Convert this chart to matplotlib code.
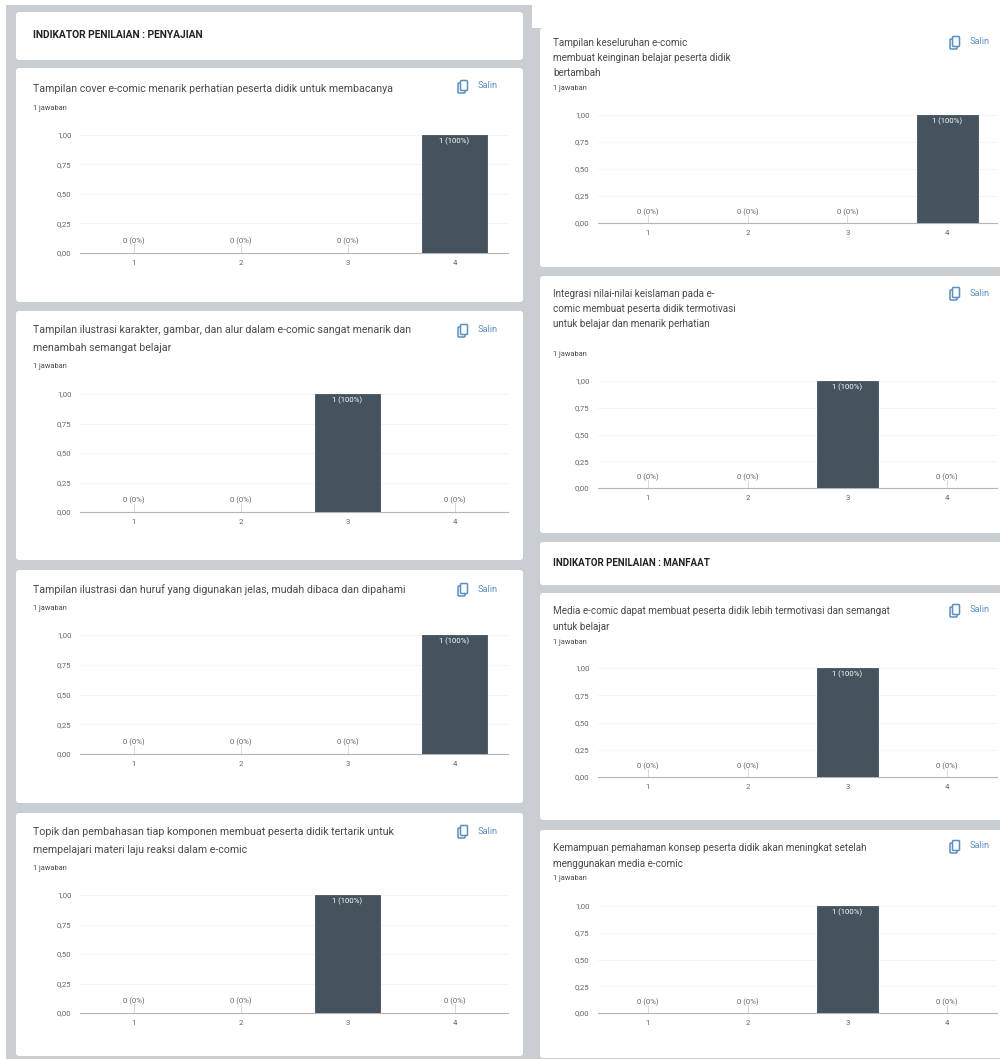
import matplotlib
matplotlib.use('Agg')
import matplotlib.pyplot as plt
from matplotlib.patches import FancyBboxPatch, Rectangle

plt.rcParams['font.family'] = ['Roboto', 'DejaVu Sans']

W, H = 1000, 1059
GREY = '#c8ced2'
BAR = '#44535e'
TXT = '#4a4a4a'
BLUE = '#5b8fc0'

categories = ['1', '2', '3', '4']
y_ticks = [0, 0.25, 0.5, 0.75, 1]
y_tick_labels = ['0,00', '0,25', '0,50', '0,75', '1,00']

# answers per question
q1 = [0, 0, 0, 1]
q2 = [0, 0, 1, 0]
q3 = [0, 0, 0, 1]
q4 = [0, 0, 1, 0]
q5 = [0, 0, 0, 1]
q6 = [0, 0, 1, 0]
q7 = [0, 0, 1, 0]
q8 = [0, 0, 1, 0]

title1 = ['Tampilan cover e-comic menarik perhatian peserta didik untuk membacanya']
title2 = ['Tampilan ilustrasi karakter, gambar, dan alur dalam e-comic sangat menarik dan',
          'menambah semangat belajar']
title3 = ['Tampilan ilustrasi dan huruf yang digunakan jelas, mudah dibaca dan dipahami']
title4 = ['Topik dan pembahasan tiap komponen membuat peserta didik tertarik untuk',
          'mempelajari materi laju reaksi dalam e-comic']
title5 = ['Tampilan keseluruhan e-comic', 'membuat keinginan belajar peserta didik', 'bertambah']
title6 = ['Integrasi nilai-nilai keislaman pada e-', 'comic membuat peserta didik termotivasi',
          'untuk belajar dan menarik perhatian']
title7 = ['Media e-comic dapat membuat peserta didik lebih termotivasi dan semangat',
          'untuk belajar']
title8 = ['Kemampuan pemahaman konsep peserta didik akan meningkat setelah',
          'menggunakan media e-comic']

fig = plt.figure(figsize=(W / 100, H / 100), dpi=100, facecolor='white')

# page layer in pixel coordinates
bg = fig.add_axes([0, 0, 1, 1])
bg.set_xlim(0, W)
bg.set_ylim(H, 0)
bg.axis('off')

bg.add_patch(Rectangle((6, 5), 526, H - 5, fc=GREY, ec='none'))
bg.add_patch(Rectangle((523, 28), W - 523, H - 28, fc=GREY, ec='none'))


def card(x0, y0, x1, y1):
    bg.add_patch(FancyBboxPatch((x0 + 3, y0 + 3), x1 - x0 - 6, y1 - y0 - 6,
                                boxstyle='round,pad=3,rounding_size=3',
                                fc='white', ec='none'))


def copy_icon(x, y):
    bg.add_patch(FancyBboxPatch((x, y - 4), 7, 10, boxstyle='round,pad=0,rounding_size=1',
                                fc='none', ec=BLUE, lw=1.1))
    bg.add_patch(FancyBboxPatch((x + 2.5, y - 6.5), 7, 10, boxstyle='round,pad=0,rounding_size=1',
                                fc='white', ec=BLUE, lw=1.1))
    bg.text(x + 19.5, y - 1, 'Salin', fontsize=6.6, color=BLUE, va='center', ha='left')


def question(values, title, title_ys, jaw_y, left, right, top, bottom, text_x, icon_x, icon_y, size):
    for line, ty in zip(title, title_ys):
        bg.text(text_x, ty, line, fontsize=size, color=TXT, va='center', ha='left')
    bg.text(text_x, jaw_y, '1 jawaban', fontsize=5.3, color=TXT, va='center', ha='left')
    copy_icon(icon_x, icon_y)

    ax = fig.add_axes([left / W, 1 - bottom / H, (right - left) / W, (bottom - top) / H])
    ax.patch.set_alpha(0)
    xs = list(range(len(categories)))
    ax.bar(xs, values, width=0.61, color=BAR, edgecolor=BAR, linewidth=0.6, zorder=3)
    for x, v in zip(xs, values):
        if v == 0:
            ax.plot([x, x], [v, v + 0.075], color='#d5d5d5', lw=0.6, zorder=2)
            ax.text(x, v + 0.1, '0 (0%)', fontsize=5.6, color='#666666', ha='center', va='center')
        else:
            ax.text(x, v - 0.055, '1 (100%)', fontsize=5.6, color='white', ha='center', va='center', zorder=4)
    ax.set_xlim(-0.5, 3.5)
    ax.set_ylim(0, 1)
    ax.set_xticks(xs)
    ax.set_xticklabels(categories)
    ax.set_yticks(y_ticks)
    ax.set_yticklabels(y_tick_labels)
    ax.tick_params(length=0, labelsize=5.6, labelcolor='#666666')
    ax.tick_params(axis='y', pad=6)
    ax.tick_params(axis='x', pad=5)
    ax.grid(axis='y', color='#f3f3f3', lw=0.6, zorder=0)
    for side in ['top', 'right', 'left']:
        ax.spines[side].set_visible(False)
    ax.spines['bottom'].set_color('#b5b5b5')
    ax.spines['bottom'].set_linewidth(0.8)
    ax.spines['bottom'].set_zorder(2)


# left column
card(16, 12, 523, 60)
bg.text(33, 35, 'INDIKATOR PENILAIAN : PENYAJIAN', fontsize=7.4, fontweight='bold',
        color='#222222', va='center', ha='left')
card(16, 68, 523, 302)
question(q1, title1, [89], 108, 80, 508, 135, 253, 33, 458, 87, 7.7)
card(16, 311, 523, 560)
question(q2, title2, [330, 348], 367, 80, 508, 394, 512, 33, 458, 331, 7.7)
card(16, 570, 523, 803)
question(q3, title3, [590], 609, 80, 508, 635, 754, 33, 458, 590, 7.7)
card(16, 813, 523, 1056)
question(q4, title4, [832, 850], 868, 80, 508, 895, 1013, 33, 458, 832, 7.7)

# right column
bg.add_patch(Rectangle((532, 0), W - 532, 28, fc='white', ec='none'))
card(540, 28, 1004, 267)
question(q5, title5, [43, 58, 73], 89, 598, 997, 115, 223, 553, 950, 43, 7.15)
card(540, 276, 1004, 533)
question(q6, title6, [294, 309, 324], 354, 598, 997, 381, 488, 553, 950, 294, 7.15)
card(540, 542, 1004, 585)
bg.text(553, 563, 'INDIKATOR PENILAIAN : MANFAAT', fontsize=7.0, fontweight='bold',
        color='#222222', va='center', ha='left')
card(540, 593, 1004, 820)
question(q7, title7, [611, 627], 643, 598, 997, 668, 777, 553, 950, 611, 7.15)
card(540, 830, 1004, 1058)
question(q8, title8, [848, 864], 879, 598, 997, 906, 1013, 553, 950, 847, 7.15)

fig.savefig('out.png', dpi=100)
